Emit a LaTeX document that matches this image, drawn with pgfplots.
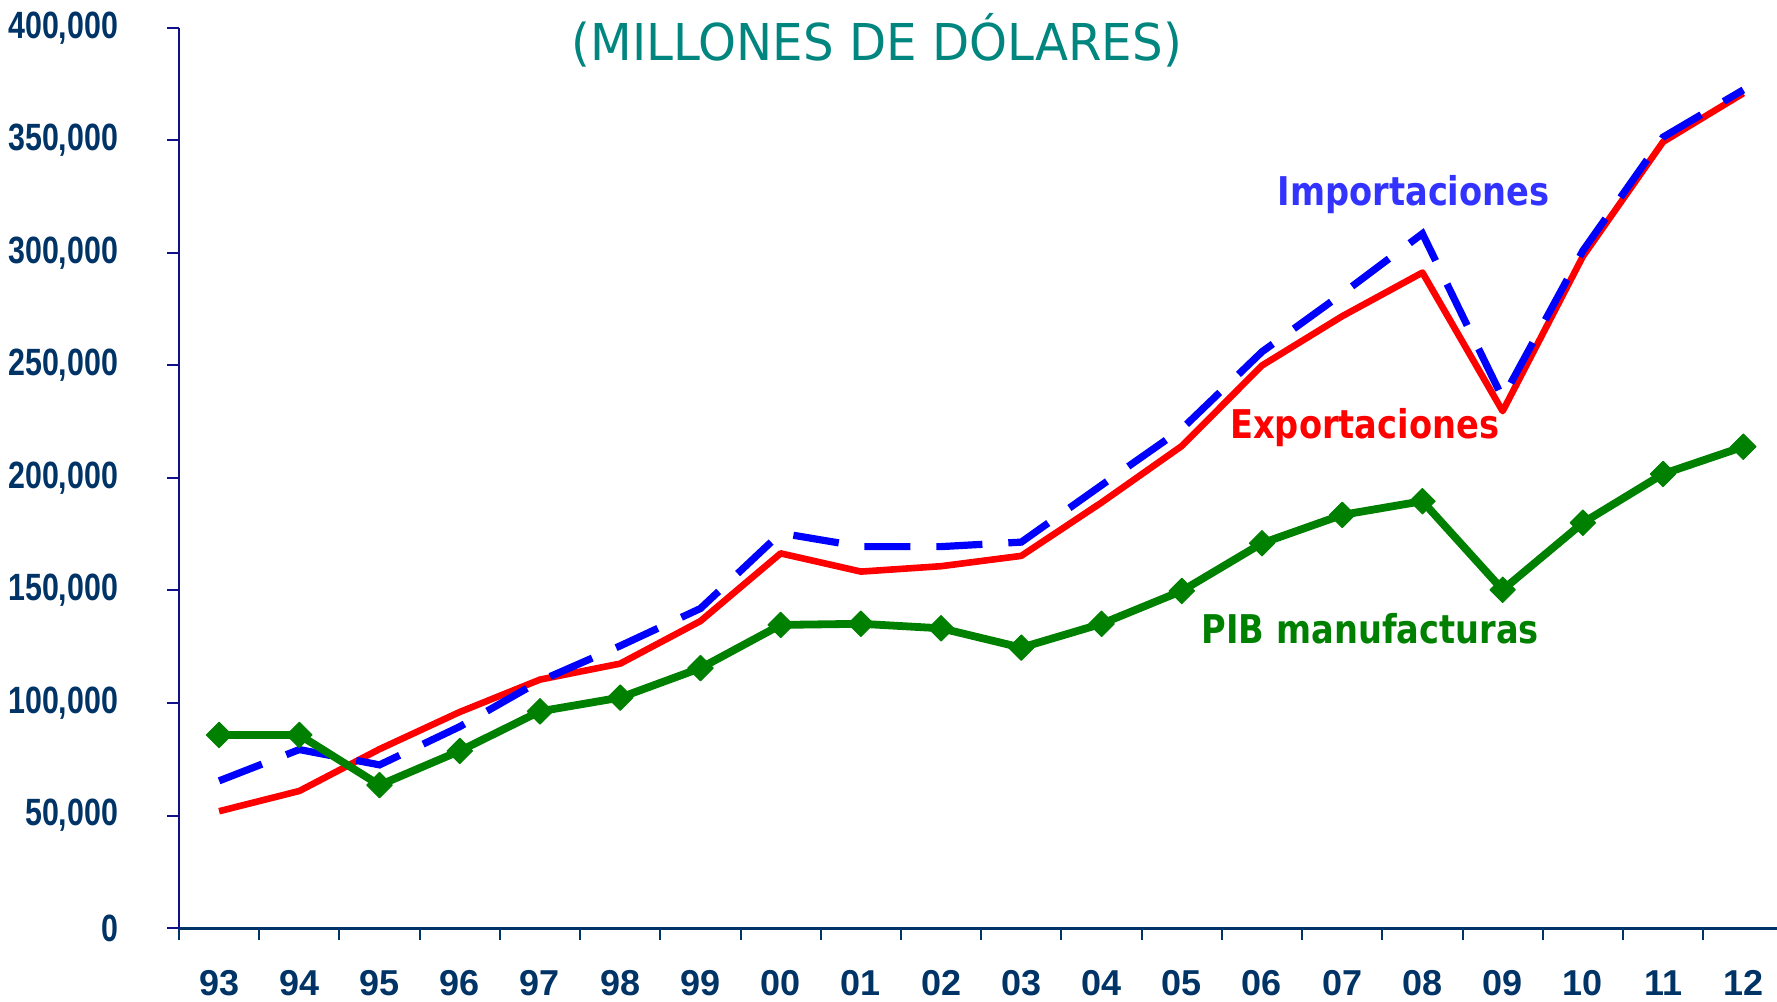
\documentclass[border=0pt]{standalone}
\usepackage{fontspec}
\setmainfont{Liberation Sans}
\newfontfamily\ytfont[FakeStretch=0.8]{Liberation Sans}
\newfontfamily\labfont[FakeStretch=0.85]{DejaVu Sans}
\newfontfamily\titfont[FakeStretch=0.95]{DejaVu Sans}
\usepackage{pgfplots}
\usepackage{pgfplotstable}
\pgfplotsset{compat=1.18}

\definecolor{navytxt}{HTML}{003366}
\definecolor{yaxiscol}{HTML}{10108A}
\definecolor{titlecol}{HTML}{00857F}
\definecolor{impcol}{HTML}{0000FF}
\definecolor{implab}{HTML}{3333FF}
\definecolor{expcol}{HTML}{FF0000}
\definecolor{pibcol}{HTML}{008000}

% valores en millones de dolares
\pgfplotstableread{
x  exp    imp    pib
0  51900  65400  85800
1  60900  79300  85800
2  79500  72500  63500
3  96000  89500  78700
4  110400 109800 96300
5  117500 125400 102400
6  136400 142000 115500
7  166500 175500 134700
8  158400 169500 135200
9  160800 169500 133200
10 165400 171500 124600
11 189100 196800 135200
12 214200 221800 149800
13 250000 256100 171000
14 271900 281900 183600
15 291300 308600 189700
16 229700 235500 150300
17 298500 301000 180100
18 349400 351500 201800
19 371000 372500 213900
}\datos

\begin{document}
\begin{tikzpicture}
\begin{axis}[
    scale only axis,
    width=799pt, height=450pt,
    xmin=-0.5, xmax=19.42,
    ymin=0, ymax=400000,
    clip=false,
    axis x line=bottom, axis y line=left,
    x axis line style={-, draw=navytxt, line width=1.5pt},
    y axis line style={-, draw=yaxiscol, line width=1pt},
    tick align=outside,
    major tick length=5.75pt,
    ytick={0,50000,...,400000},
    ytick style={draw=yaxiscol, line width=1pt},
    scaled y ticks=false,
    /pgf/number format/.cd, fixed, 1000 sep={,}, assume math mode=true,
    /pgfplots/.cd,
    xtick={-0.5,0.5,...,18.5},
    xticklabels={},
    xtick style={draw=navytxt, line width=1pt},
    extra x ticks={0,1,...,19},
    extra x tick labels={93,94,95,96,97,98,99,00,01,02,03,04,05,06,07,08,09,10,11,12},
    extra x tick style={major tick length=0pt},
    y tick label style={font=\ytfont\fontsize{19}{21}\selectfont\bfseries, text=navytxt,
        anchor=east, inner sep=0pt, xshift=-24.5pt},
    x tick label style={font=\fontsize{18}{20}\selectfont\bfseries, text=navytxt,
        anchor=base, inner sep=0pt, yshift=-33.5pt},
]
\addplot[expcol, line width=3.3pt, line join=round] table[x=x, y=exp] {\datos};
\addplot[impcol, line width=3.6pt, dash pattern=on 23pt off 13pt] table[x=x, y=imp] {\datos};
\addplot[pibcol, line width=3.9pt, line join=round, mark=square*,
    mark size=4.5pt, mark options={rotate=45, solid, fill=pibcol, draw=pibcol, line width=0.5pt}]
    table[x=x, y=pib] {\datos};

\node[font=\titfont\fontsize{25.4}{28}\selectfont, text=titlecol] at (axis cs:8.2,394500) {(MILLONES DE DÓLARES)};
\node[font=\labfont\fontsize{19.8}{22}\selectfont\bfseries, text=implab] at (axis cs:14.89,326000) {Importaciones};
\node[font=\labfont\fontsize{19.8}{22}\selectfont\bfseries, text=expcol] at (axis cs:14.28,222200) {Exportaciones};
\node[font=\labfont\fontsize{19.8}{22}\selectfont\bfseries, text=pibcol] at (axis cs:14.35,132900) {PIB manufacturas};
\end{axis}
\pgfresetboundingbox
\useasboundingbox (-89.5pt,-36.5pt) rectangle (799pt,464pt);
\end{tikzpicture}
\end{document}
